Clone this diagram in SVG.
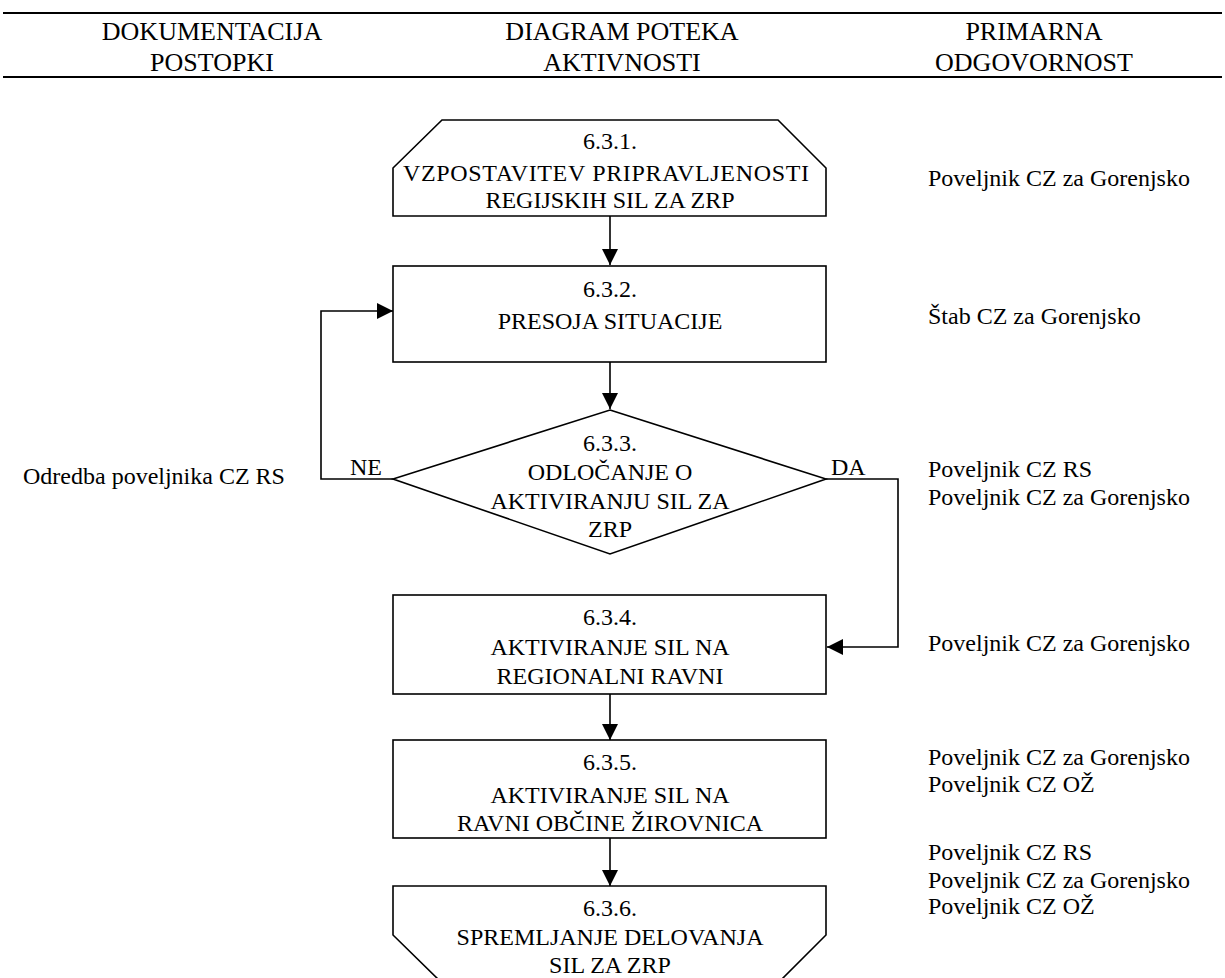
<svg xmlns="http://www.w3.org/2000/svg" width="1225" height="978" viewBox="0 0 1225 978">
<style>
text{font-family:"Liberation Serif","Times New Roman",serif;fill:#000;font-size:24px}
.h{font-size:26px;text-anchor:middle}
.c{text-anchor:middle}
.s{fill:#fff;stroke:#000;stroke-width:1.6}
.l{fill:none;stroke:#000;stroke-width:1.6}
</style>
<defs>
<marker id="ah" markerWidth="16" markerHeight="16" refX="16" refY="8" orient="auto" markerUnits="userSpaceOnUse" viewBox="0 0 16 16">
<path d="M0,0 L16,8 L0,16 Z" fill="#000"/>
</marker>
</defs>
<g id="header">
<line x1="3" y1="13" x2="1222" y2="13" stroke="#000" stroke-width="2.2"/>
<line x1="3" y1="77" x2="1222" y2="77" stroke="#000" stroke-width="2.2"/>
<text class="h" x="212" y="40">DOKUMENTACIJA</text>
<text class="h" x="212" y="71">POSTOPKI</text>
<text class="h" x="622" y="40">DIAGRAM POTEKA</text>
<text class="h" x="622" y="71">AKTIVNOSTI</text>
<text class="h" x="1034" y="40">PRIMARNA</text>
<text class="h" x="1034" y="71">ODGOVORNOST</text>
</g>
<g id="connectors">
<line class="l" x1="610" y1="216" x2="610" y2="265" marker-end="url(#ah)"/>
<line class="l" x1="610" y1="362" x2="610" y2="409" marker-end="url(#ah)"/>
<polyline class="l" points="393,479 321,479 321,311 393,311" marker-end="url(#ah)"/>
<polyline class="l" points="826,479 898,479 898,647 827,647" marker-end="url(#ah)"/>
<line class="l" x1="610" y1="694" x2="610" y2="740" marker-end="url(#ah)"/>
<line class="l" x1="610" y1="838" x2="610" y2="886" marker-end="url(#ah)"/>
<text x="350" y="475">NE</text>
<text x="831" y="475">DA</text>
</g>
<g id="n631">
<polygon class="s" points="393,168 442,120 778,120 826,168 826,216 393,216"/>
<text class="c" x="610" y="149">6.3.1.</text>
<text class="c" x="606" y="181" textLength="406" lengthAdjust="spacing">VZPOSTAVITEV PRIPRAVLJENOSTI</text>
<text class="c" x="610" y="208">REGIJSKIH SIL ZA ZRP</text>
</g>
<g id="n632">
<rect class="s" x="393" y="266" width="433" height="96"/>
<text class="c" x="610" y="297">6.3.2.</text>
<text class="c" x="610" y="329">PRESOJA SITUACIJE</text>
</g>
<g id="n633">
<polygon class="s" points="610,410 826,479 610,554 393,479"/>
<text class="c" x="610" y="451">6.3.3.</text>
<text class="c" x="610" y="480">ODLOČANJE O</text>
<text class="c" x="610" y="509">AKTIVIRANJU SIL ZA</text>
<text class="c" x="610" y="537">ZRP</text>
</g>
<g id="n634">
<rect class="s" x="393" y="595" width="433" height="99"/>
<text class="c" x="610" y="625">6.3.4.</text>
<text class="c" x="610" y="655">AKTIVIRANJE SIL NA</text>
<text class="c" x="610" y="684">REGIONALNI RAVNI</text>
</g>
<g id="n635">
<rect class="s" x="393" y="740" width="433" height="98"/>
<text class="c" x="610" y="770">6.3.5.</text>
<text class="c" x="610" y="803">AKTIVIRANJE SIL NA</text>
<text class="c" x="610" y="831">RAVNI OBČINE ŽIROVNICA</text>
</g>
<g id="n636">
<polygon class="s" points="393,886 826,886 826,935 778,983 442,983 393,935"/>
<text class="c" x="610" y="916">6.3.6.</text>
<text class="c" x="610" y="945">SPREMLJANJE DELOVANJA</text>
<text class="c" x="610" y="973">SIL ZA ZRP</text>
</g>
<g id="documents">
<text x="23" y="484">Odredba poveljnika CZ RS</text>
</g>
<g id="responsibility">
<text x="928" y="186">Poveljnik CZ za Gorenjsko</text>
<text x="928" y="324">Štab CZ za Gorenjsko</text>
<text x="928" y="477">Poveljnik CZ RS</text>
<text x="928" y="505">Poveljnik CZ za Gorenjsko</text>
<text x="928" y="651">Poveljnik CZ za Gorenjsko</text>
<text x="928" y="765">Poveljnik CZ za Gorenjsko</text>
<text x="928" y="792">Poveljnik CZ OŽ</text>
<text x="928" y="860">Poveljnik CZ RS</text>
<text x="928" y="888">Poveljnik CZ za Gorenjsko</text>
<text x="928" y="914">Poveljnik CZ OŽ</text>
</g>
</svg>
